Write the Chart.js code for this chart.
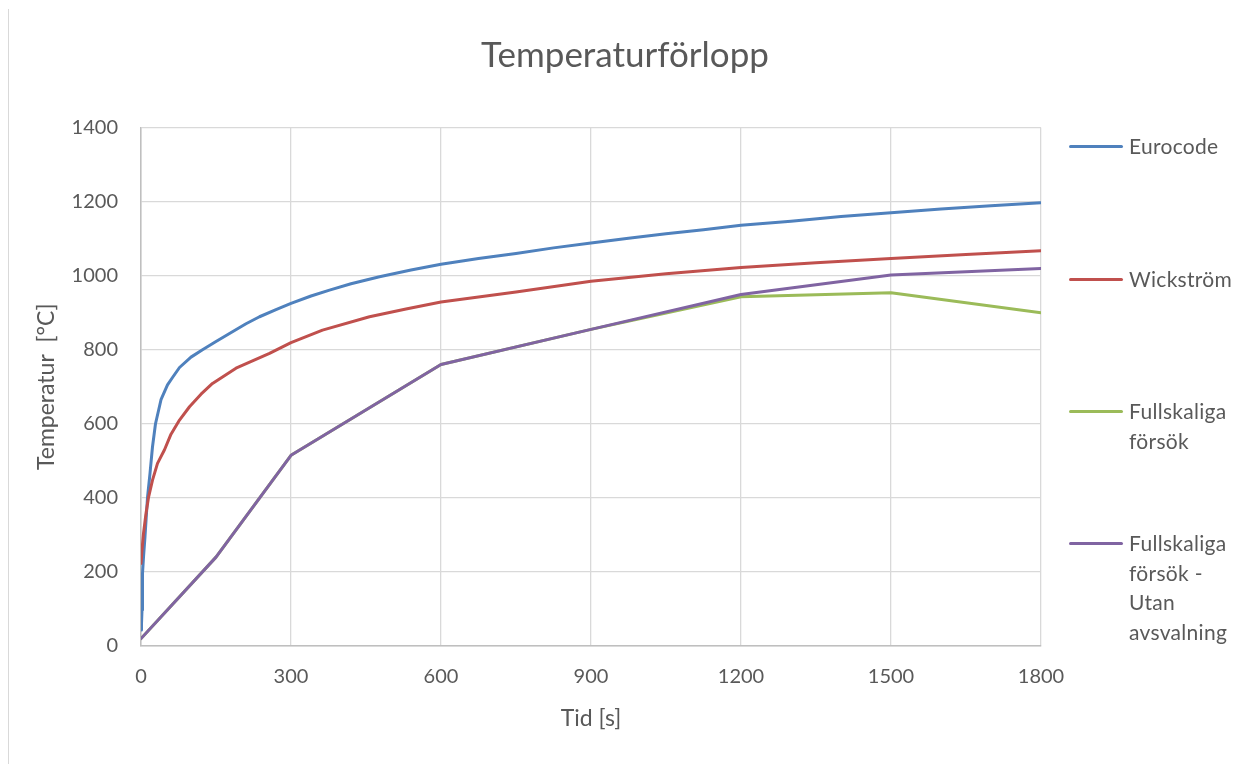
<!DOCTYPE html>
<html>
<head>
<meta charset="utf-8">
<script src="https://cdn.jsdelivr.net/npm/chart.js@4.4.1/dist/chart.umd.min.js"></script>
<style>
  html, body { margin: 0; padding: 0; background: #fff; }
  #wrap { position: relative; width: 1239px; height: 764px; overflow: hidden; }
  #frameL { position: absolute; left: 8px; top: 9px; width: 1px; height: 760px; background: #d9d9d9; }
  #c { position: absolute; left: 0; top: 0; }
  .leg { position: absolute; left: 1069px; font-family: Lato, "Open Sans", sans-serif; font-size: 21px; letter-spacing: 0.3px; color: #595959; }
  .leg .sw { position: absolute; left: 0; width: 54px; height: 3px; border-radius: 1.5px; }
  .leg .tx { position: absolute; left: 60px; line-height: 29.5px; white-space: nowrap; }
</style>
</head>
<body>
<div id="wrap">
  <div id="frameL"></div>
  <canvas id="c" width="1239" height="764"></canvas>
  <div id="legend"></div>
</div>
<script>
// ---- data ----
const chartTitle = "Temperaturförlopp";
const seriesNames = ["Eurocode", "Wickström", "Fullskaliga försök", "Fullskaliga försök - Utan avsvalning"];
const legendLines = [["Eurocode"], ["Wickström"], ["Fullskaliga", "försök"], ["Fullskaliga", "försök -", "Utan", "avsvalning"]];

const euroTime = [0, 1, 2, 3, 5, 8, 13, 18, 23, 29, 40, 53, 63, 77, 100, 123, 150, 177, 210, 237, 270, 300, 340, 377, 420, 477, 540, 600, 675, 750, 825, 900, 975, 1050, 1125, 1200, 1300, 1400, 1500, 1600, 1700, 1800];
const euroTemp = [43, 60, 97, 196, 240, 295, 401, 466, 538, 600, 665, 705, 725, 752, 780, 800, 822, 844, 870, 889, 908, 925, 945, 961, 978, 997, 1015, 1031, 1046, 1060, 1075, 1088, 1101, 1113, 1124, 1136, 1147, 1160, 1170, 1180, 1189, 1197];

const wickTime = [0, 2, 5, 10, 15, 23, 33, 47, 60, 77, 97, 120, 143, 190, 257, 300, 363, 457, 530, 600, 750, 900, 1050, 1200, 1350, 1500, 1650, 1800];
const wickTemp = [223, 260, 304, 358, 401, 448, 493, 530, 572, 610, 646, 680, 709, 750, 790, 819, 853, 889, 910, 929, 956, 985, 1005, 1022, 1035, 1046, 1057, 1067];

const testTime = [0, 150, 300, 600, 900, 1200, 1500, 1800];
const testTemp = [20, 240, 515, 760, 855, 943, 954, 900];
const noCoolTemp = [20, 240, 515, 760, 855, 949, 1002, 1019];

const xTicks = [0, 300, 600, 900, 1200, 1500, 1800];
const yTicks = [0, 200, 400, 600, 800, 1000, 1200, 1400];

const colors = ["#4f81bd", "#c0504d", "#9bbb59", "#8064a2"];

// ---- build ----
const pts = (xs, ys) => xs.map((x, i) => ({ x: x, y: ys[i] }));
const FONT = "Lato, 'Open Sans', sans-serif";
const GREY = "#595959";

const datasets = [
  { label: seriesNames[0], data: pts(euroTime, euroTemp), order: 4 },
  { label: seriesNames[1], data: pts(wickTime, wickTemp), order: 3 },
  { label: seriesNames[2], data: pts(testTime, testTemp), order: 2 },
  { label: seriesNames[3], data: pts(testTime, noCoolTemp), order: 1 }
].map((d, i) => Object.assign(d, {
  borderColor: colors[i], backgroundColor: colors[i], borderWidth: 3,
  pointRadius: 0, tension: 0, fill: false, borderJoinStyle: "round", borderCapStyle: "round"
}));

const titlePlugin = {
  id: "pageTitle",
  afterDraw(chart) {
    const ctx = chart.ctx;
    ctx.save();
    ctx.font = "35px " + FONT;
    ctx.fillStyle = GREY;
    ctx.textAlign = "center";
    ctx.textBaseline = "middle";
    ctx.fillText(chartTitle, 625, 56);
    ctx.restore();
  }
};

new Chart(document.getElementById("c"), {
  type: "line",
  data: { datasets },
  plugins: [titlePlugin],
  options: {
    responsive: false,
    animation: false,
    layout: { padding: { left: 0, right: 198, top: 127.5, bottom: 0 } },
    plugins: {
      legend: { display: false },
      tooltip: { enabled: false },
      title: { display: false }
    },
    scales: {
      x: {
        type: "linear", min: 0, max: 1800,
        afterBuildTicks: s => { s.ticks = xTicks.map(v => ({ value: v })); },
        afterFit: s => { s.height = 118; },
        grid: { color: "#d9d9d9", lineWidth: 1.3, drawTicks: false },
        border: { color: "#bfbfbf", width: 1.5 },
        ticks: { color: GREY, font: { family: FONT, size: 20 }, padding: 19, maxRotation: 0, callback: v => String(v) },
        title: { display: true, text: "Tid [s]", color: GREY, font: { family: FONT, size: 23, lineHeight: 1.2 }, padding: { top: 0, bottom: 32 } }
      },
      y: {
        min: 0, max: 1400,
        afterBuildTicks: s => { s.ticks = yTicks.map(v => ({ value: v })); },
        afterFit: s => { s.width = 141; },
        grid: { color: "#d9d9d9", lineWidth: 1.3, drawTicks: false },
        border: { color: "#bfbfbf", width: 1.5 },
        ticks: { color: GREY, font: { family: FONT, size: 20 }, padding: 23, callback: v => String(v) },
        title: { display: true, text: "Temperatur  [°C]", color: GREY, font: { family: FONT, size: 23, lineHeight: 1.2 }, padding: { top: 33, bottom: 0 } }
      }
    }
  }
});

// ---- legend (HTML) ----
const legendY = [146, 279, 411, 543];
const legend = document.getElementById("legend");
legendLines.forEach((lines, i) => {
  const item = document.createElement("div");
  item.className = "leg";
  item.style.top = legendY[i] + "px";
  const sw = document.createElement("div");
  sw.className = "sw";
  sw.style.background = colors[i];
  sw.style.top = "-1.5px";
  item.appendChild(sw);
  const tx = document.createElement("div");
  tx.className = "tx";
  tx.style.top = "-15px";
  tx.innerHTML = lines.join("<br>");
  item.appendChild(tx);
  legend.appendChild(item);
});
</script>
</body>
</html>
